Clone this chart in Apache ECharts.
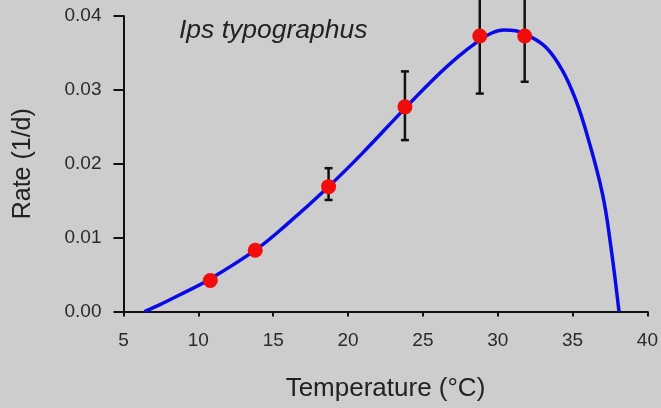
<!DOCTYPE html>
<html>
<head>
<meta charset="utf-8">
<script src="https://cdn.jsdelivr.net/npm/echarts@6/dist/echarts.min.js"></script>
<style>
html,body{margin:0;padding:0;background:#cdcdcd;}
#chart{width:661px;height:408px;}
</style>
</head>
<body>
<div id="chart"></div>
<script>
// Observed development rates (points with error bars)
const tempObs  = [10.8, 13.8, 18.7, 23.8, 28.8, 31.8];
const rateObs  = [0.0042, 0.0083, 0.0169, 0.0277, 0.0373, 0.0373];
const rateLow  = [null, null, 0.0151, 0.0232, 0.0295, 0.0311];
const rateHigh = [null, null, 0.0194, 0.0325, 0.0451, 0.0435];

// Fitted curve
const curveT    = [6.4, 7.4, 8.7, 10.7, 13.8, 15.8, 18.7, 20.9, 23.8, 26.0, 27.3, 28.7, 29.6, 30.4, 31.2, 31.9, 33.2, 34.3, 35.2, 36.0, 37.0, 37.55, 38.1];
const curveRate = [0.0, 0.0009, 0.0022, 0.0043, 0.0083, 0.0116, 0.0169, 0.0213, 0.0275, 0.0320, 0.0344, 0.0366, 0.0377, 0.0381, 0.0380, 0.0375, 0.0358, 0.0327, 0.0287, 0.0237, 0.0159, 0.0089, 0.0];

const xTicks = [5, 10, 15, 20, 25, 30, 35, 40];
const yTicks = ['0.00', '0.01', '0.02', '0.03', '0.04'];

const speciesLabel = 'Ips typographus';
const xTitle = 'Temperature (°C)';
const yTitle = 'Rate (1/d)';

const FONT = 'Liberation Sans, Arial, Helvetica, sans-serif';
const chart = echarts.init(document.getElementById('chart'), null, {renderer: 'canvas'});

const curveData = curveT.map((t, i) => [t, curveRate[i]]);
const obsData = tempObs.map((t, i) => [t, rateObs[i]]);
const errData = [];
tempObs.forEach((t, i) => { if (rateLow[i] !== null) errData.push([t, rateLow[i], rateHigh[i]]); });

chart.setOption({
  backgroundColor: '#cdcdcd',
  animation: false,
  grid: {left: 123.5, right: 9, top: 16, bottom: 96.5, containLabel: false},
  graphic: [{
    type: 'text', left: 179, top: 17,
    style: {text: speciesLabel, font: 'italic 26.5px ' + FONT, fill: '#222'}
  }],
  xAxis: {
    type: 'value', min: xTicks[0], max: xTicks[xTicks.length - 1], interval: 5,
    name: xTitle, nameLocation: 'middle', nameGap: 64,
    nameTextStyle: {fontSize: 26, fontFamily: FONT, color: '#222'},
    axisLine: {show: true, lineStyle: {color: '#111', width: 2}},
    axisTick: {show: true, length: 5, lineStyle: {color: '#111', width: 2}},
    axisLabel: {margin: 20, fontSize: 19, fontFamily: FONT, color: '#2a2a2a',
      formatter: v => String(v)},
    splitLine: {show: false}
  },
  yAxis: {
    type: 'value', min: 0, max: 0.04, interval: 0.01,
    name: yTitle, nameLocation: 'middle', nameGap: 88,
    nameTextStyle: {fontSize: 25, fontFamily: FONT, color: '#222'},
    axisLine: {show: true, lineStyle: {color: '#111', width: 2}},
    axisTick: {show: true, length: 10, lineStyle: {color: '#111', width: 2}},
    axisLabel: {margin: 22, fontSize: 19, fontFamily: FONT, color: '#2a2a2a',
      formatter: v => yTicks[Math.round(v / 0.01)]},
    splitLine: {show: false}
  },
  series: [
    {
      type: 'line', data: curveData, smooth: 0.4, showSymbol: false,
      lineStyle: {color: '#0a0ae6', width: 3.5}, z: 2, clip: false
    },
    {
      type: 'custom', data: errData, z: 3, clip: false,
      renderItem: function (params, api) {
        const x = api.value(0);
        const lo = api.coord([x, api.value(1)]);
        const hi = api.coord([x, api.value(2)]);
        const cw = 4;
        const style = {stroke: '#111', lineWidth: 2.5};
        return {type: 'group', children: [
          {type: 'line', shape: {x1: lo[0], y1: lo[1], x2: hi[0], y2: hi[1]}, style: style},
          {type: 'line', shape: {x1: lo[0] - cw, y1: lo[1], x2: lo[0] + cw, y2: lo[1]}, style: style},
          {type: 'line', shape: {x1: hi[0] - cw, y1: hi[1], x2: hi[0] + cw, y2: hi[1]}, style: style}
        ]};
      }
    },
    {
      type: 'scatter', data: obsData, symbol: 'circle', symbolSize: 15,
      itemStyle: {color: '#f20d0d', opacity: 1}, z: 4
    }
  ]
});
</script>
</body>
</html>
